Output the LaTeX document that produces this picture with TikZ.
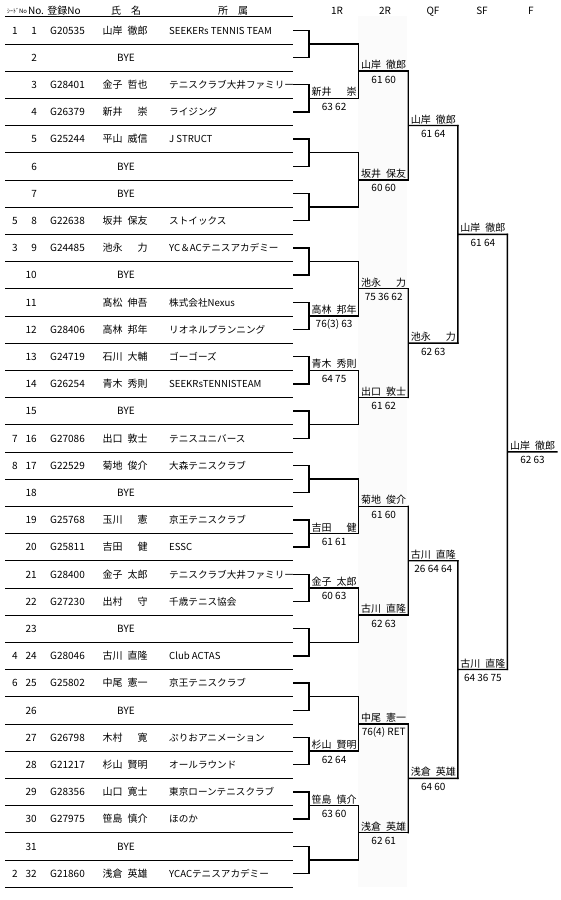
\documentclass[tikz,border=0pt]{standalone}
\usepackage{fontspec}
\setmainfont{Noto Sans CJK JP}
\usetikzlibrary{positioning,calc}
\definecolor{bandgray}{RGB}{251,251,251}
\newcommand{\nmbox}[2]{\makebox[4.5em][s]{#1\hfill#2}}

\begin{document}
\begin{tikzpicture}[x=1pt,y=-1pt,
  cell/.style={inner sep=0pt,anchor=base,font=\fontsize{10}{12}\selectfont},
  rowrule/.style={line width=0.8pt},
  bline/.style={line width=1.4pt,line cap=rect},
  winner/.style={cell},
  score/.style={cell}]
  \useasboundingbox (0,0) rectangle (560,900);
  \fill[bandgray] (358,16) rectangle (407,887);
  % header
  \node[cell,font=\fontsize{6}{7}\selectfont] (hseed) at (17,13.5) {ｼｰﾄﾞNo};
  \node[cell] (hno) at (36,14.3) {No.};
  \node[cell] (hreg) at (64,14.3) {登録No};
  \node[cell] (hname) at (126,14.3) {氏　名};
  \node[cell] (hclub) at (233,14.3) {所　属};
  \foreach \r/\x in {1R/337,2R/385,QF/433,SF/482,F/531}
    \node[cell] (h\r) at (\x,14.3) {\r};
  % row rules
  \foreach \k in {0,...,32}{
    \pgfmathsetmacro\yr{16.7+27.2*\k}
    \draw[rowrule] (5,\yr) -- (293,\yr);
  }
  % players
  \foreach \n/\sd/\reg/\fam/\giv/\club in {
    1/1/G20535/山岸/徹郎/SEEKERs TENNIS TEAM,
    3//G28401/金子/哲也/テニスクラブ大井ファミリー,
    4//G26379/新井/崇/ライジング,
    5//G25244/平山/威信/J STRUCT,
    8/5/G22638/坂井/保友/ストイックス,
    9/3/G24485/池永/力/YC＆ACテニスアカデミー,
    11///髙松/伸吾/株式会社Nexus,
    12//G28406/高林/邦年/リオネルプランニング,
    13//G24719/石川/大輔/ゴーゴーズ,
    14//G26254/青木/秀則/SEEKRsTENNISTEAM,
    16/7/G27086/出口/敦士/テニスユニバース,
    17/8/G22529/菊地/俊介/大森テニスクラブ,
    19//G25768/玉川/憲/京王テニスクラブ,
    20//G25811/吉田/健/ESSC,
    21//G28400/金子/太郎/テニスクラブ大井ファミリー,
    22//G27230/出村/守/千歳テニス協会,
    24/4/G28046/古川/直隆/Club ACTAS,
    25/6/G25802/中尾/憲一/京王テニスクラブ,
    27//G26798/木村/寛/ぷりおアニメーション,
    28//G21217/杉山/賢明/オールラウンド,
    29//G28356/山口/寛士/東京ローンテニスクラブ,
    30//G27975/笹島/慎介/ほのか,
    32/2/G21860/浅倉/英雄/YCACテニスアカデミー}
  {
    \pgfmathsetmacro\yb{34+27.2*(\n-1)}
    \node[cell] (seed\n) at (15,\yb) {\sd};
    \node[cell,anchor=base east] (no\n) at (37,\yb) {\n};
    \node[cell,anchor=base west] (reg\n) at (50,\yb) {\reg};
    \node[cell] (name\n) at (125,\yb) {\nmbox{\fam}{\giv}};
    \node[cell,anchor=base west,font=\fontsize{9.6}{12}\selectfont] (club\n) at (169,\yb) {\club};
  }
  \foreach \n in {2,6,7,10,15,18,23,26,31}{
    \pgfmathsetmacro\yb{34+27.2*(\n-1)}
    \node[cell,anchor=base east] (no\n) at (37,\yb) {\n};
    \node[cell] (name\n) at (126,\yb) {BYE};
  }
  % draw lines
  \foreach \i in {1,...,32}{
    \pgfmathsetmacro\yc{30.3+27.2*(\i-1)}
    \coordinate (e\i) at (294,\yc);
    \coordinate (r0-\i) at (309,\yc);
    \draw[bline] (e\i) -- (r0-\i);
  }
  \foreach \L in {1,...,5}{
    \pgfmathtruncatemacro\cnt{32/2^\L}
    \pgfmathtruncatemacro\Lp{\L-1}
    \foreach \j in {1,...,\cnt}{
      \pgfmathtruncatemacro\ja{2*\j-1}
      \pgfmathtruncatemacro\jb{2*\j}
      \pgfmathsetmacro\yy{30.3+27.2*((\j-1)*2^\L+(2^\L-1)/2)}
      \pgfmathsetmacro\xx{309+49.6*\L}
      \coordinate (r\L-\j) at (\xx,\yy);
      \draw[bline] (r\Lp-\ja) -- (r\Lp-\jb)
        ($(r\Lp-\ja)!.5!(r\Lp-\jb)$) -- (r\L-\j);
    }
  }
  % results
  \foreach \L/\j/\fam/\giv/\sc in {
    1/2/新井/崇/63 62, 1/6/高林/邦年/76(3) 63, 1/7/青木/秀則/64 75,
    1/10/吉田/健/61 61, 1/11/金子/太郎/60 63, 1/14/杉山/賢明/62 64,
    1/15/笹島/慎介/63 60,
    2/1/山岸/徹郎/61 60, 2/2/坂井/保友/60 60, 2/3/池永/力/75 36 62,
    2/4/出口/敦士/61 62, 2/5/菊地/俊介/61 60, 2/6/古川/直隆/62 63,
    2/7/中尾/憲一/76(4) RET, 2/8/浅倉/英雄/62 61,
    3/1/山岸/徹郎/61 64, 3/2/池永/力/62 63, 3/3/古川/直隆/26 64 64,
    3/4/浅倉/英雄/64 60,
    4/1/山岸/徹郎/61 64, 4/2/古川/直隆/64 36 75,
    5/1/山岸/徹郎/62 63}
  {
    \node[winner] (w\L-\j) at ($(r\L-\j)+(-24.5,-2.5)$) {\nmbox{\fam}{\giv}};
    \node[score] (s\L-\j) at ($(r\L-\j)+(-24.5,12)$) {\sc};
  }
\end{tikzpicture}
\end{document}
